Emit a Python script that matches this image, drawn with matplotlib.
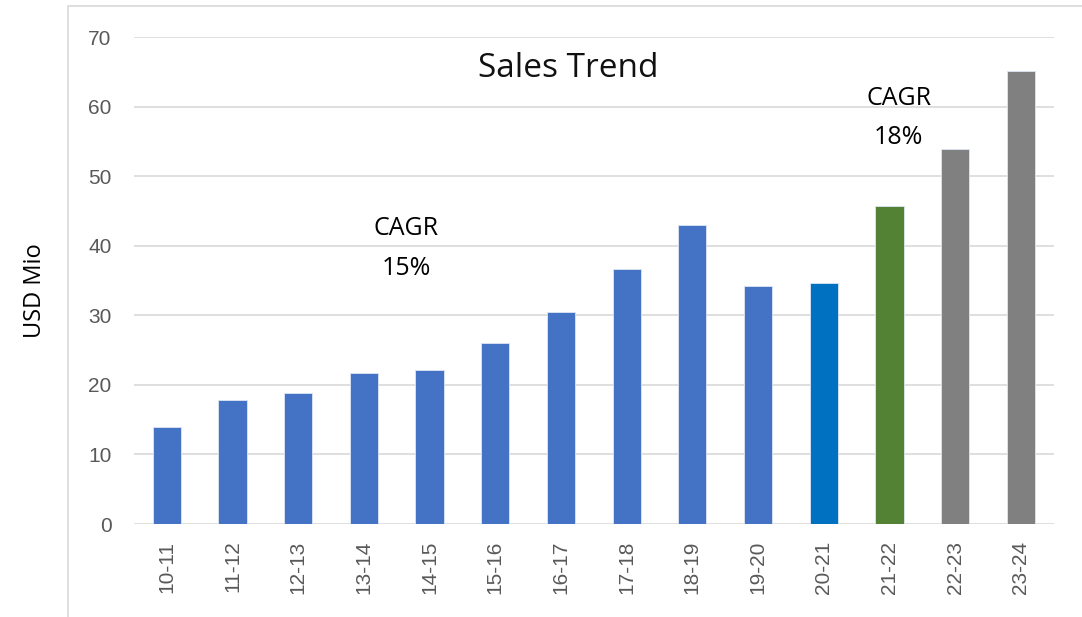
import matplotlib.pyplot as plt
from matplotlib.patches import Rectangle

# data
years = ['10-11', '11-12', '12-13', '13-14', '14-15', '15-16', '16-17',
         '17-18', '18-19', '19-20', '20-21', '21-22', '22-23', '23-24']
sales = [13.9, 17.8, 18.8, 21.7, 22.1, 26.1, 30.5, 36.6, 43.0, 34.2, 34.6, 45.8, 53.9, 65.1]
colors = ['#4472C4'] * 10 + ['#0070C0', '#548235', '#808080', '#808080']

fig = plt.figure(figsize=(10.82, 6.17), dpi=100)
ax = fig.add_axes([0.1238, 0.1507, 0.850, 0.789])

# outer chart frame
fig.patches.append(Rectangle((68 / 1082, -0.01), 1.0, 1 - 6 / 617 + 0.01,
                             transform=fig.transFigure, fill=False,
                             edgecolor='#D9D9D9', linewidth=1.2))

x = range(len(years))
ax.bar(x, sales, width=0.43, color=colors, edgecolor='#DDE6F5', linewidth=0.6, zorder=3)

ax.set_xlim(-0.5, 13.5)
ax.set_ylim(0, 70)
ax.set_yticks(range(0, 71, 10))
ax.set_xticks(list(x))
ax.set_xticklabels(years, rotation=90)
ax.grid(axis='y', color='#D9D9D9', linewidth=1.2, zorder=0)
for s in ax.spines.values():
    s.set_visible(False)
ax.tick_params(length=0, labelsize=15, labelcolor='#595959')
ax.tick_params(axis='x', pad=12)
ax.tick_params(axis='y', pad=16)
for lab in ax.get_xticklabels() + ax.get_yticklabels():
    lab.set_fontfamily('Liberation Sans')

ax.set_ylabel('USD Mio', fontsize=17, family='Open Sans')
ax.yaxis.set_label_coords(-0.095, 0.48)

ax.text(0.472, 0.918, 'Sales Trend', transform=ax.transAxes, ha='center', va='baseline',
        fontsize=24, family='Open Sans', color='#111111')
ax.text(3.64, 41.5, 'CAGR', ha='center', va='baseline', fontsize=18, family='Open Sans')
ax.text(3.64, 35.8, '15%', ha='center', va='baseline', fontsize=18, family='Open Sans')
ax.text(11.14, 60.2, 'CAGR', ha='center', va='baseline', fontsize=18, family='Open Sans')
ax.text(11.14, 54.6, '18%', ha='center', va='baseline', fontsize=18, family='Open Sans')

plt.savefig('out.png', dpi=100)
